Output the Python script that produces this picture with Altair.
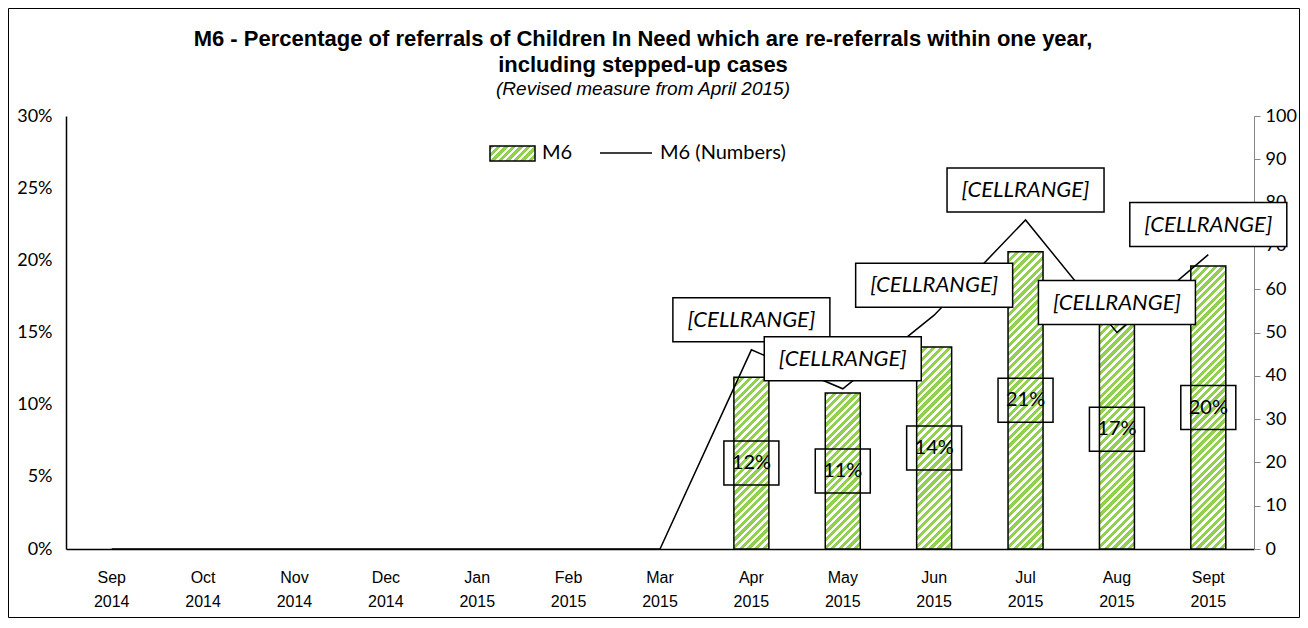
import math
import altair as alt
import pandas as pd

# ---------------- data ----------------
months = ["Sep 2014", "Oct 2014", "Nov 2014", "Dec 2014", "Jan 2015", "Feb 2015",
          "Mar 2015", "Apr 2015", "May 2015", "Jun 2015", "Jul 2015", "Aug 2015",
          "Sept 2015"]
pct_values = [None, None, None, None, None, None, None,
              0.119, 0.108, 0.140, 0.206, 0.166, 0.196]
number_values = [0, 0, 0, 0, 0, 0, 0, 46, 37, 54, 76, 50, 68]
callout_labels = ["", "", "", "", "", "", "",
                  "[CELLRANGE]", "[CELLRANGE]", "[CELLRANGE]", "[CELLRANGE]",
                  "[CELLRANGE]", "[CELLRANGE]"]
title_lines = ["M6 - Percentage of referrals of Children In Need which are re-referrals within one year,",
               "including stepped-up cases"]
subtitle_line = "(Revised measure from April 2015)"
legend_labels = ["M6", "M6 (Numbers)"]
pct_ticks = [0, 0.05, 0.10, 0.15, 0.20, 0.25, 0.30]
num_ticks = list(range(0, 101, 10))

df = pd.DataFrame({"month": months, "pct": pct_values,
                   "numbers": number_values, "lab": callout_labels})

# ---------------- layout ----------------
W, H = 1188, 433
PAD = {"left": 58, "top": 108, "right": 46, "bottom": 69}
GREEN = "#92D050"
CAL = "Lato"
ARIAL = "Liberation Sans"
BAR_W = 35


def stripes(h, w, period=5.5, green=GREEN, white="#FFFFFF"):
    k = (1 / h + 1 / w) / (1 / h ** 2 + 1 / w ** 2)
    n = max(1, round((w + h) / (math.sqrt(2) * period)))
    stops = []
    for i in range(n):
        a, b, c = i / n, (i + 0.55) / n, (i + 1) / n
        stops += [{"offset": a, "color": green}, {"offset": b, "color": green},
                  {"offset": b, "color": white}, {"offset": c, "color": white}]
    return {"gradient": "linear", "x1": 0, "y1": 0, "x2": k / h, "y2": k / w,
            "stops": stops}


x_axis = alt.Axis(title=None, labelAngle=0, labelExpr="split(datum.label, ' ')",
                  ticks=False, domainColor="#000000", domainWidth=1.5,
                  labelFont=ARIAL, labelFontSize=16, labelColor="#000000",
                  labelPadding=20, labelLineHeight=24)
x_scale = alt.Scale(domain=months, paddingInner=0, paddingOuter=0)
y_scale = alt.Scale(domain=[0, 0.3], nice=False)
n_scale = alt.Scale(domain=[0, 100], nice=False)

left_axis = alt.Axis(title=None, orient="left", values=pct_ticks, format=".0%",
                     ticks=False, domainColor="#000000", domainWidth=1.5, grid=False,
                     labelFont=CAL, labelFontSize=18, labelColor="#000000",
                     labelPadding=14)
right_axis = alt.Axis(title=None, orient="right", values=num_ticks, grid=False,
                      domainColor="#868686", tickColor="#868686", tickSize=6,
                      labelFont=CAL, labelFontSize=18, labelColor="#000000",
                      labelPadding=5)

X = alt.X("month:N", sort=months, scale=x_scale, axis=x_axis)

base = alt.Chart(df)

# bars, one layer per month so each has its own stripe pattern
bar_layers = []
for m, v in zip(months, pct_values):
    if v is None:
        continue
    h = v / 0.3 * H
    layer = base.transform_filter(alt.datum.month == m).mark_bar(
        size=BAR_W, fill=stripes(h, BAR_W), stroke="#000000", strokeWidth=1.5
    ).encode(
        x=X,
        y=alt.Y("pct:Q", scale=y_scale, axis=left_axis),
    )
    bar_layers.append(layer)

pct_rows = base.transform_filter("isValid(datum.pct)").transform_calculate(mid="datum.pct / 2")
pct_box = pct_rows.mark_point(
    shape="M-1,-0.8L1,-0.8L1,0.8L-1,0.8Z", size=55 ** 2, filled=False,
    stroke="#000000", strokeWidth=1.5, opacity=1
).encode(x=X, y=alt.Y("mid:Q", scale=y_scale, axis=left_axis))
pct_text = pct_rows.mark_text(font=CAL, fontSize=20, color="#000000").encode(
    x=X, y=alt.Y("mid:Q", scale=y_scale, axis=left_axis),
    text=alt.Text("pct:Q", format=".0%"))

left = alt.layer(*bar_layers, pct_box, pct_text)

line = base.mark_line(color="#000000", strokeWidth=1.5).encode(
    x=X, y=alt.Y("numbers:Q", scale=n_scale, axis=right_axis))
call_rows = base.transform_filter("datum.lab != ''")
call_box = call_rows.mark_point(
    shape="M-1,-0.2803L1,-0.2803L1,0.2803L-1,0.2803Z", size=157 ** 2, filled=True,
    fill="#FFFFFF", stroke="#000000", strokeWidth=1.5, opacity=1, yOffset=-30
).encode(x=X, y=alt.Y("numbers:Q", scale=n_scale, axis=right_axis))
call_text = call_rows.mark_text(font=CAL, fontSize=22, fontStyle="italic",
                                color="#000000", dy=-30).encode(
    x=X, y=alt.Y("numbers:Q", scale=n_scale, axis=right_axis),
    text="lab:N")

right = alt.layer(line, call_box, call_text)

# ---------------- decorations ----------------
one = alt.Chart(pd.DataFrame({"k": [0]}))
TX = 577
title1 = one.mark_text(font=ARIAL, fontSize=22, fontWeight="bold", color="#000000").encode(
    x=alt.value(TX), y=alt.value(-77), text=alt.value(title_lines[0]))
title2 = one.mark_text(font=ARIAL, fontSize=22, fontWeight="bold", color="#000000").encode(
    x=alt.value(TX), y=alt.value(-51), text=alt.value(title_lines[1]))
title3 = one.mark_text(font=ARIAL, fontSize=19, fontStyle="italic", color="#000000").encode(
    x=alt.value(TX), y=alt.value(-27), text=alt.value(subtitle_line))

leg_swatch = one.mark_rect(fill=stripes(15, 45), stroke="#000000", strokeWidth=1.5).encode(
    x=alt.value(424), x2=alt.value(469), y=alt.value(30), y2=alt.value(45))
leg_t1 = one.mark_text(font=CAL, fontSize=20, align="left", color="#000000").encode(
    x=alt.value(476), y=alt.value(37), text=alt.value(legend_labels[0]))
leg_line = one.mark_rule(color="#000000", strokeWidth=1.5).encode(
    x=alt.value(534), x2=alt.value(586), y=alt.value(37))
leg_t2 = one.mark_text(font=CAL, fontSize=20, align="left", color="#000000").encode(
    x=alt.value(594), y=alt.value(37), text=alt.value(legend_labels[1]))

border = one.mark_rect(fillOpacity=0, stroke="#000000", strokeWidth=1).encode(
    x=alt.value(-PAD["left"] + 0.5), x2=alt.value(W + PAD["right"] - 0.5),
    y=alt.value(-PAD["top"] + 0.5), y2=alt.value(H + PAD["bottom"] - 0.5))

chart = alt.layer(left, right, title1, title2, title3,
                  leg_swatch, leg_t1, leg_line, leg_t2, border).resolve_scale(
    y="independent"
).properties(
    width=W, height=H,
    autosize=alt.AutoSizeParams(type="none"),
    padding=PAD, background="#FFFFFF"
).configure_view(stroke=None)

chart.save("out.html", embed_options={"renderer": "svg", "actions": False})
